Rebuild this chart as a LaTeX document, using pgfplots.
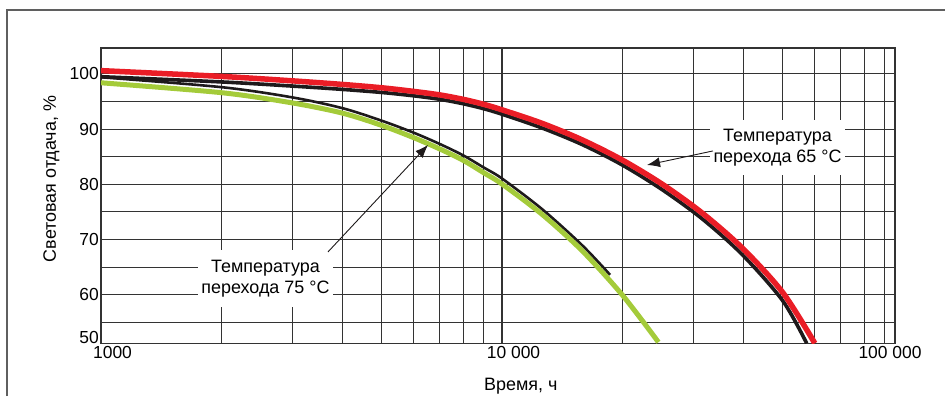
\documentclass[border=0pt]{standalone}
\usepackage{fontspec}
\setmainfont{Liberation Sans}
\usepackage{pgfplots}
\pgfplotsset{compat=1.18}
\usetikzlibrary{arrows.meta}
\definecolor{redc}{HTML}{EA1D26}
\definecolor{greenc}{HTML}{A4CB3A}
\definecolor{blackc}{HTML}{1E1A1B}
\definecolor{gridc}{HTML}{333333}
\definecolor{framec}{HTML}{5F5F5F}
\begin{document}
\begin{tikzpicture}[x=1bp,y=1bp]
\useasboundingbox (0,0) rectangle (945,396);
\draw[line width=1.3bp, framec] (7,0) -- (7,386) -- (945,386);
\begin{axis}[
  at={(101bp,52.7bp)}, anchor=south west,
  width=794bp, height=295.3bp, scale only axis,
  xmode=log, log basis x=10,
  xmin=1000, xmax=95500, ymin=51.2, ymax=104.7,
  xtick={1000,10000}, xticklabels={1000,10 000},
  extra x ticks={95500}, extra x tick labels={100 000},
  extra x tick style={xticklabel style={xshift=-16.5bp}},
  minor xtick={1000,2000,3000,4000,5000,6000,7000,8000,9000,10000,20000,30000,40000,50000,60000,70000,80000,90000},
  ytick={60,70,80,90,100}, yticklabels={60,70,80,90,100},
  extra y ticks={51.2}, extra y tick labels={50},
  extra y tick style={yticklabel style={yshift=6bp}},
  minor ytick={55,65,75,85,95},
  xmajorgrids=false, xminorgrids=true, ymajorgrids=true, yminorgrids=true,
  major grid style={gridc, line width=1.1bp},
  minor grid style={gridc, line width=1.1bp},
  major tick length=0pt, minor tick length=0pt,
  axis line style={gridc, line width=1.4bp},
  tick label style={font=\fontsize{17.5}{20}\selectfont, text=black},
  xticklabel style={xshift=11.5bp},
  yticklabel style={inner xsep=2bp},
  label style={font=\fontsize{18}{21}\selectfont},
  xlabel={Время, ч},
  ylabel={Световая отдача, \%},
  xlabel style={at={(axis description cs:0.5286,-0.1615)}, anchor=base},
  ylabel style={at={(axis description cs:-0.0567,0.5564)}, anchor=base},
]
% 65 C: black then red
\addplot[blackc, line width=3.6bp, smooth, tension=0.5] coordinates {
(1000,99.5) (2000,98.55) (3000,97.8) (4000,97.2) (5000,96.65) (6000,96.05)
(7000,95.4) (8000,94.6) (9000,93.7) (10000,92.7) (12589,90.2) (15849,87.2)
(19953,83.5) (25119,79.0) (31623,73.7) (39811,67.2) (50119,58.9) (57500,51.2)};
\addplot[redc, line width=5.5bp, smooth, tension=0.5] coordinates {
(1000,100.6) (2000,99.55) (3000,98.75) (4000,98.1) (5000,97.5) (6000,96.85)
(7000,96.2) (8000,95.4) (9000,94.5) (10000,93.5) (12589,91.05) (15849,88.05)
(19953,84.4) (25119,80.0) (31623,74.75) (39811,68.4) (50119,60.4) (60256,51.2)};
% 75 C: black then green
\addplot[blackc, line width=2.6bp, smooth, tension=0.5] coordinates {
(1000,99.4) (2000,97.6) (3000,95.75) (4000,93.8) (5000,91.55) (6000,89.4)
(7000,87.3) (8000,85.25) (9000,83.05) (10000,81.05) (12589,75.5) (15849,68.95)
(18600,63.6)};
\addplot[greenc, line width=5bp, smooth, tension=0.5] coordinates {
(1000,98.4) (2000,96.6) (3000,94.75) (4000,92.9) (5000,90.7) (6000,88.5)
(7000,86.4) (8000,84.35) (9000,82.1) (10000,80.05) (12589,74.55) (15849,67.95)
(19953,59.95) (24547,51.4)};
% annotations
\node[fill=white, inner sep=0pt, minimum width=135bp, minimum height=55bp, align=center,
  font=\fontsize{18}{21}\selectfont] at (axis cs:48640,86.7) {Температура\\перехода 65 °C};
\node[fill=white, inner sep=0pt, minimum width=135bp, minimum height=57bp, align=center,
  font=\fontsize{18}{21}\selectfont] at (axis cs:2571,62.95) {Температура\\перехода 75 °C};
\draw[blackc, line width=0.9bp, -{Latex[length=13bp,width=10bp]}] (axis cs:33570,86.05) -- (axis cs:22990,83.5);
\draw[blackc, line width=0.9bp, -{Latex[length=13bp,width=10bp]}] (axis cs:3681,67.75) -- (axis cs:6539,87.14);
\end{axis}
\end{tikzpicture}
\end{document}
